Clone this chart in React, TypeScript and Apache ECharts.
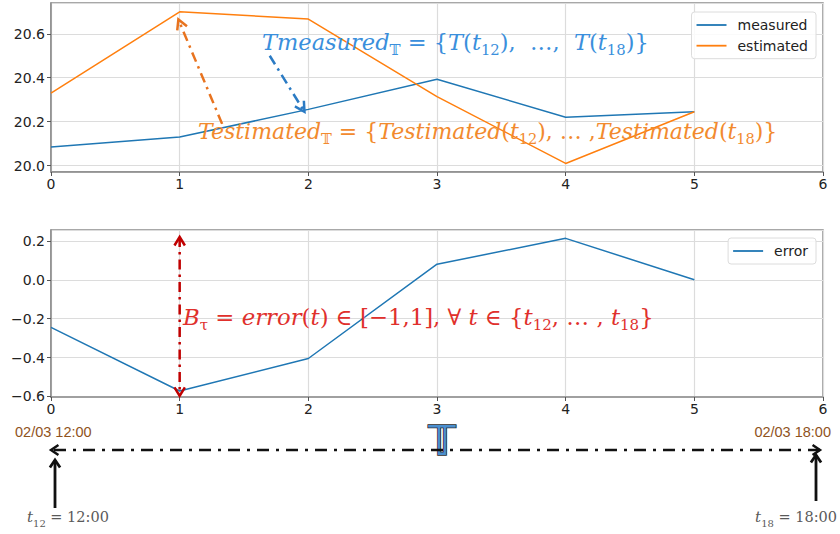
import React, { useEffect, useRef } from "react";
import * as echarts from "echarts";

const xValues = [0, 1, 2, 3, 4, 5];
const measured = [20.085, 20.13, 20.256, 20.393, 20.22, 20.245];
const estimated = [20.33, 20.7, 20.667, 20.314, 20.01, 20.245];
const errorValues = [-0.245, -0.572, -0.405, 0.08, 0.213, 0.0];
const seriesNames = ["measured", "estimated", "error"];
const startLabel = "02/03 12:00";
const endLabel = "02/03 18:00";

const BLUE = "#1f77b4";
const ORANGE = "#ff7f0e";
const MATH = "'DejaVu Serif', 'Liberation Serif', serif";
const SANS = "'DejaVu Sans', sans-serif";

const fmt = (v: number) => v.toFixed(1).replace("-", "\u2212");

const xAxisBase = (gridIndex: number) => ({
  type: "value",
  gridIndex,
  min: 0,
  max: 6,
  interval: 1,
  axisLine: { show: true, onZero: false, lineStyle: { color: "#8c8c8c", width: 1.5 } },
  axisTick: { show: true, length: 4, lineStyle: { color: "#555" } },
  axisLabel: { color: "#222", fontSize: 14, fontFamily: SANS, margin: 5 },
  splitLine: { show: true, lineStyle: { color: "#dcdcdc", width: 1.2 } },
});

const yAxisBase = (gridIndex: number, min: number, max: number) => ({
  type: "value",
  gridIndex,
  min,
  max,
  minInterval: 0.2,
  maxInterval: 0.2,
  axisLine: { show: true, lineStyle: { color: "#8c8c8c", width: 1.5 } },
  axisTick: { show: true, length: 4, lineStyle: { color: "#555" } },
  axisLabel: {
    color: "#222",
    fontSize: 14,
    fontFamily: SANS,
    margin: 6,
    showMinLabel: false,
    showMaxLabel: false,
    formatter: fmt,
  },
  splitLine: { show: true, lineStyle: { color: "#dcdcdc", width: 1.2 } },
});

const legendBase = (names: string[], top: number) => ({
  data: names.map((n) => ({ name: n, icon: "rect" })),
  orient: "vertical",
  right: 24,
  top,
  itemWidth: 30,
  itemHeight: 1.8,
  itemGap: 4.7,
  padding: [5, 8, 5, 5],
  borderColor: "#dcdcdc",
  borderWidth: 1,
  borderRadius: 3,
  backgroundColor: "rgba(255,255,255,0.85)",
  textStyle: { fontSize: 14, lineHeight: 16, color: "#222", fontFamily: SANS, padding: [0, 0, 0, 6] },
});

function arrowHead(tip: number[], from: number[], stroke: string, lw: number, len = 11, ang = 0.5) {
  const dx = from[0] - tip[0];
  const dy = from[1] - tip[1];
  const d = Math.hypot(dx, dy);
  const ux = dx / d;
  const uy = dy / d;
  const rot = (a: number) => [
    tip[0] + len * (ux * Math.cos(a) - uy * Math.sin(a)),
    tip[1] + len * (ux * Math.sin(a) + uy * Math.cos(a)),
  ];
  return {
    type: "polyline",
    z: 100,
    shape: { points: [rot(ang), tip, rot(-ang)] },
    style: { stroke, lineWidth: lw, fill: null },
  };
}

function dashLine(a: number[], b: number[], stroke: string, lw: number, dash: number[] | null) {
  return {
    type: "line",
    z: 100,
    shape: { x1: a[0], y1: a[1], x2: b[0], y2: b[1] },
    style: { stroke, lineWidth: lw, lineDash: dash || undefined },
  };
}

function mathRich(color: string, size: number) {
  return {
    i: { fontFamily: MATH, fontStyle: "italic", fontSize: size, fill: color, lineHeight: 30 },
    r: { fontFamily: MATH, fontSize: size, fill: color, lineHeight: 30 },
    s: { fontFamily: MATH, fontSize: size * 0.66, fill: color, verticalAlign: "bottom", lineHeight: size * 0.66 },
  };
}

function mathText(x: number, y: number, text: string, color: string, size = 22) {
  return {
    type: "text",
    z: 110,
    x,
    y,
    style: {
      text,
      fill: color,
      fontFamily: MATH,
      fontSize: size,
      verticalAlign: "middle",
      align: "left",
      rich: mathRich(color, size),
    },
  };
}

export default function App() {
  const ref = useRef<HTMLDivElement>(null);
  useEffect(() => {
    if (!ref.current) return;
    const chart = echarts.init(ref.current, null, { renderer: "svg" });
    chart.setOption({
      animation: false,
      backgroundColor: "#ffffff",
      grid: [
        { left: 51, top: 3, width: 772, height: 169, show: true, borderColor: "#8c8c8c", borderWidth: 1.5 },
        { left: 51, top: 230, width: 772, height: 167, show: true, borderColor: "#8c8c8c", borderWidth: 1.5 },
      ],
      xAxis: [xAxisBase(0), xAxisBase(1)],
      yAxis: [yAxisBase(0, 19.971, 20.74), yAxisBase(1, -0.603, 0.256)],
      legend: [legendBase([seriesNames[0], seriesNames[1]], 12), legendBase([seriesNames[2]], 238)],
      series: [
        {
          name: seriesNames[0],
          type: "line",
          xAxisIndex: 0,
          yAxisIndex: 0,
          symbol: "none",
          color: BLUE,
          lineStyle: { width: 1.5, color: BLUE },
          data: xValues.map((x, i) => [x, measured[i]]),
        },
        {
          name: seriesNames[1],
          type: "line",
          xAxisIndex: 0,
          yAxisIndex: 0,
          symbol: "none",
          color: ORANGE,
          lineStyle: { width: 1.5, color: ORANGE },
          data: xValues.map((x, i) => [x, estimated[i]]),
        },
        {
          name: seriesNames[2],
          type: "line",
          xAxisIndex: 1,
          yAxisIndex: 1,
          symbol: "none",
          color: BLUE,
          lineStyle: { width: 1.5, color: BLUE },
          data: xValues.map((x, i) => [x, errorValues[i]]),
        },
      ],
    });

    const p0 = (x: number, y: number) => chart.convertToPixel({ gridIndex: 0 }, [x, y]) as number[];
    const p1 = (x: number, y: number) => chart.convertToPixel({ gridIndex: 1 }, [x, y]) as number[];

    const DASHDOT = [10, 5, 2.5, 5];
    const oTail = p0(1.33, 20.19);
    const oTip = p0(0.99, 20.665);
    const bTail = p0(1.7, 20.5);
    const bTip = p0(1.97, 20.245);
    const rTop = p1(1, 0.22);
    const rBot = p1(1, -0.597);

    const left = p1(0, -0.603);
    const right = p1(6, -0.603);
    const tlY = 450;
    const tlL = [left[0], tlY];
    const tlR = [right[0] - 3, tlY];
    const vL = [left[0] + 4, 460];
    const vLb = [left[0] + 4, 508];
    const vR = [right[0] - 7, 455];
    const vRb = [right[0] - 7, 501];

    const ORANGE_ARROW = "#e8731f";
    const BLUE_ARROW = "#2b7bc4";
    const RED_ARROW = "#c00000";
    const LABEL_BROWN = "#8f531d";
    const GRAY_TXT = "#5a5a5a";

    const smallRich = {
      i: { fontFamily: MATH, fontStyle: "italic", fontSize: 15, fill: GRAY_TXT, lineHeight: 22 },
      r: { fontFamily: MATH, fontSize: 14.5, fill: GRAY_TXT, lineHeight: 22 },
      s: { fontFamily: MATH, fontSize: 10, fill: GRAY_TXT, verticalAlign: "bottom", lineHeight: 10 },
    };

    const tCenter = (left[0] + right[0]) / 2 + 5;

    chart.setOption({
      graphic: [
        // top annotations
        dashLine(oTail, oTip, ORANGE_ARROW, 2.5, DASHDOT),
        arrowHead(oTip, oTail, ORANGE_ARROW, 2.5),
        dashLine(bTail, bTip, BLUE_ARROW, 2.5, DASHDOT),
        arrowHead(bTip, bTail, BLUE_ARROW, 2.5),
        mathText(
          262,
          42,
          "{i|Tmeasured}{s|\u{1D54B}}{r| = {}{i|T}{r|(}{i|t}{s|12}{r|),  \u2026,  }{i|T}{r|(}{i|t}{s|18}{r|)}}",
          "#3a8fdc",
          22.5
        ),
        mathText(
          198,
          131,
          "{i|Testimated}{s|\u{1D54B}}{r| = {}{i|Testimated}{r|(}{i|t}{s|12}{r|), \u2026 ,}{i|Testimated}{r|(}{i|t}{s|18}{r|)}}",
          "#f28a2e"
        ),
        // bottom annotation
        dashLine(rTop, rBot, RED_ARROW, 2.5, DASHDOT),
        arrowHead(rTop, rBot, RED_ARROW, 2.5, 10, 0.55),
        arrowHead(rBot, rTop, RED_ARROW, 2.5, 10, 0.55),
        mathText(
          183,
          317,
          "{i|B}{s|\u03C4}{r| = }{i|error}{r|(}{i|t}{r|) \u2208 [\u22121,1], \u2200 }{i|t}{r| \u2208 {}{i|t}{s|12}{r|, \u2026 , }{i|t}{s|18}}",
          "#e0302c",
          22.8
        ),
        // timeline
        dashLine([tlL[0] + 3, tlY], tlR, "#111", 2.5, [12, 7, 3, 7]),
        arrowHead(tlL, tlR, "#111", 2.5, 9, 0.6),
        arrowHead(tlR, tlL, "#111", 2.5, 9, 0.6),
        dashLine(vLb, vL, "#111", 2.8, null),
        arrowHead(vL, vLb, "#111", 2.8, 9, 0.6),
        dashLine(vRb, vR, "#111", 2.8, null),
        arrowHead(vR, vRb, "#111", 2.8, 9, 0.6),
        {
          type: "text",
          x: left[0] - 36,
          y: 432,
          style: { text: startLabel, fill: LABEL_BROWN, fontFamily: "'Liberation Sans', sans-serif", fontSize: 14.5, verticalAlign: "middle", align: "left" },
        },
        {
          type: "text",
          x: right[0] + 8,
          y: 432,
          style: { text: endLabel, fill: LABEL_BROWN, fontFamily: "'Liberation Sans', sans-serif", fontSize: 14.5, verticalAlign: "middle", align: "right" },
        },
        {
          type: "text",
          x: 27,
          y: 517,
          style: { text: "{i|t}{s|12}{r| = 12:00}", verticalAlign: "middle", align: "left", rich: smallRich },
        },
        {
          type: "text",
          x: 837,
          y: 517,
          style: { text: "{i|t}{s|18}{r| = 18:00}", verticalAlign: "middle", align: "right", rich: smallRich },
        },
        // double-struck T
        {
          type: "text",
          x: tCenter,
          y: 440,
          z: 92,
          style: {
            text: "\u{1D54B}",
            fill: "#4a8fd0",
            fontFamily: "'DejaVu Serif', 'DejaVu Sans', serif",
            fontWeight: "bold",
            fontSize: 40,
            lineHeight: 30,
            align: "center",
            verticalAlign: "middle",
            stroke: "#2a2a2a",
            lineWidth: 1.6,
            textShadowColor: "#f0a040",
            textShadowOffsetX: -2,
            textShadowOffsetY: 0,
            textShadowBlur: 0,
          },
        },
      ],
    });

    return () => chart.dispose();
  }, []);

  return (
    <div
      ref={ref}
      style={{ position: "absolute", left: 0, top: 0, width: 840, height: 534, background: "#fff" }}
    />
  );
}
